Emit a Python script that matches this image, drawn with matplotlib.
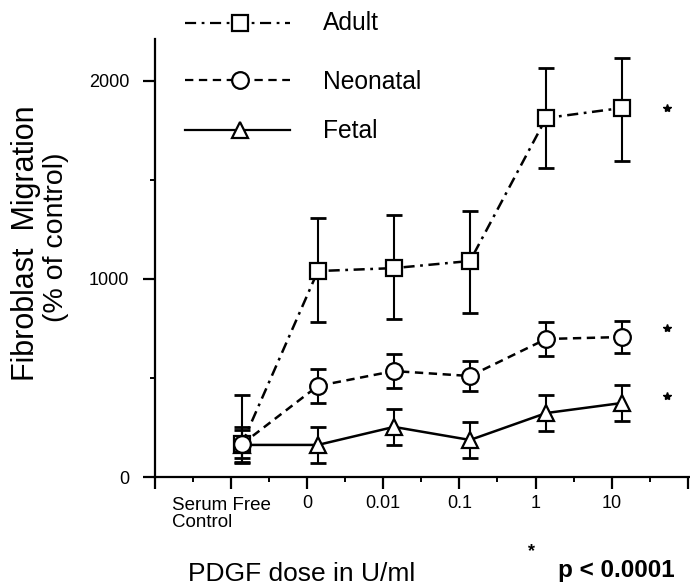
import matplotlib
matplotlib.use("Agg")
import matplotlib.pyplot as plt
import numpy as np
from matplotlib.lines import Line2D

plt.rcParams["font.family"] = ["Liberation Sans", "DejaVu Sans"]
plt.rcParams["lines.scale_dashes"] = False

# dose groups, left to right
doses = ["Serum Free\nControl", "0", "0.01", "0.1", "1", "10"]

# fibroblast migration, % of control
adult = [165, 1040, 1055, 1091, 1813, 1864]
adult_lo = [90, 257, 257, 263, 252, 268]
adult_hi = [249, 268, 268, 252, 253, 252]

neonatal = [165, 460, 535, 510, 697, 707]
neonatal_err = [70, 85, 85, 78, 85, 80]

fetal = [162, 162, 253, 187, 323, 374]
fetal_err = [90, 90, 90, 93, 91, 93]

# significance stars on the right (adult, neonatal, fetal)
star_y = [1864, 753, 409]

series = [
    ("Adult", adult, [adult_lo, adult_hi], "s", (0, (8, 4, 2, 4))),
    ("Neonatal", neonatal, neonatal_err, "o", (0, (6, 4))),
    ("Fetal", fetal, fetal_err, "^", "-"),
]
# drawing order so the circle sits on top at the control point
draw_order = [2, 0, 1]

fig = plt.figure(figsize=(6.9, 5.87), dpi=100)
ax = fig.add_axes([155 / 690, 110 / 587, 535 / 690, 438 / 587])

x = np.arange(1, len(doses) + 1) + 0.14

for z, k in enumerate(draw_order):
    name, vals, err, mk, ls = series[k]
    ax.errorbar(x, vals, yerr=err, fmt="none", ecolor="black",
                elinewidth=1.5, capsize=5.5, capthick=2.0, zorder=2 + 2 * z)
    ax.plot(x, vals, color="black", linestyle=ls, linewidth=1.8,
            marker=mk, markersize=12, markerfacecolor="white",
            markeredgecolor="black", markeredgewidth=1.6, zorder=3 + 2 * z)

ax.plot(np.full(len(star_y), 6.73), star_y, linestyle="none", marker="*",
        markersize=6, color="black")

ax.set_xlim(0, 7.03)
ax.set_ylim(0, 2212)
ax.spines["top"].set_visible(False)
ax.spines["right"].set_visible(False)
ax.spines["left"].set_linewidth(1.6)
ax.spines["bottom"].set_linewidth(1.6)

ax.set_xticks(np.arange(0, 8))
ax.set_xticks(np.arange(0.5, 7, 1), minor=True)
ax.set_xticklabels([])
ax.set_yticks([0, 1000, 2000])
ax.set_yticks([500, 1500], minor=True)
ax.tick_params(axis="both", which="major", direction="out", length=8.5,
               width=1.6, pad=2)
ax.tick_params(axis="y", which="major", pad=10)
ax.tick_params(axis="both", which="minor", direction="out", length=3.6,
               width=1.4)
ax.set_yticklabels(["0", "1000", "2000"],
                   family=["Liberation Sans Narrow", "Liberation Sans"],
                   fontsize=13)

# dose labels under the axis
trans = ax.get_xaxis_transform()
ax.text(0.22, -0.045, doses[0], transform=trans, ha="left", va="top",
        fontsize=13.5, linespacing=1.05)
for i, lab in enumerate(doses[1:], start=2):
    ax.text(i, -0.042, lab, transform=trans, ha="center", va="top",
            fontsize=13)

fig.text(302 / 690, 1 - 581 / 587, "PDGF dose in U/ml", ha="center",
         va="baseline", fontsize=19)
fig.text(532 / 690, 1 - 556 / 587, "*", ha="center", va="baseline",
         fontsize=13, fontweight="bold")
fig.text(616 / 690, 1 - 577 / 587, "p < 0.0001", ha="center",
         va="baseline", fontsize=17.5, fontweight="bold")

fig.text(26 / 690, 1 - 243 / 587, "Fibroblast  Migration", rotation=90,
         ha="center", va="center", fontsize=22)
fig.text(56 / 690, 1 - 237 / 587, "(% of control)", rotation=90,
         ha="center", va="center", fontsize=20.5)

# legend drawn by hand at the top left
rows_y = [23, 80, 130]
base_y = [30, 89, 138]
for (name, _, _, mk, ls), ry, by in zip(series, rows_y, base_y):
    yy = 1 - ry / 587
    fig.add_artist(Line2D([185 / 690, 290 / 690], [yy, yy], color="black",
                          linestyle=ls, linewidth=1.6,
                          transform=fig.transFigure))
    fig.add_artist(Line2D([240 / 690], [yy], marker=mk, markersize=12,
                          markerfacecolor="white", markeredgecolor="black",
                          markeredgewidth=1.6, linestyle="none",
                          transform=fig.transFigure))
    fig.text(323 / 690, 1 - by / 587, name, ha="left", va="baseline",
             fontsize=17.7)

fig.savefig("out.png", dpi=100)
